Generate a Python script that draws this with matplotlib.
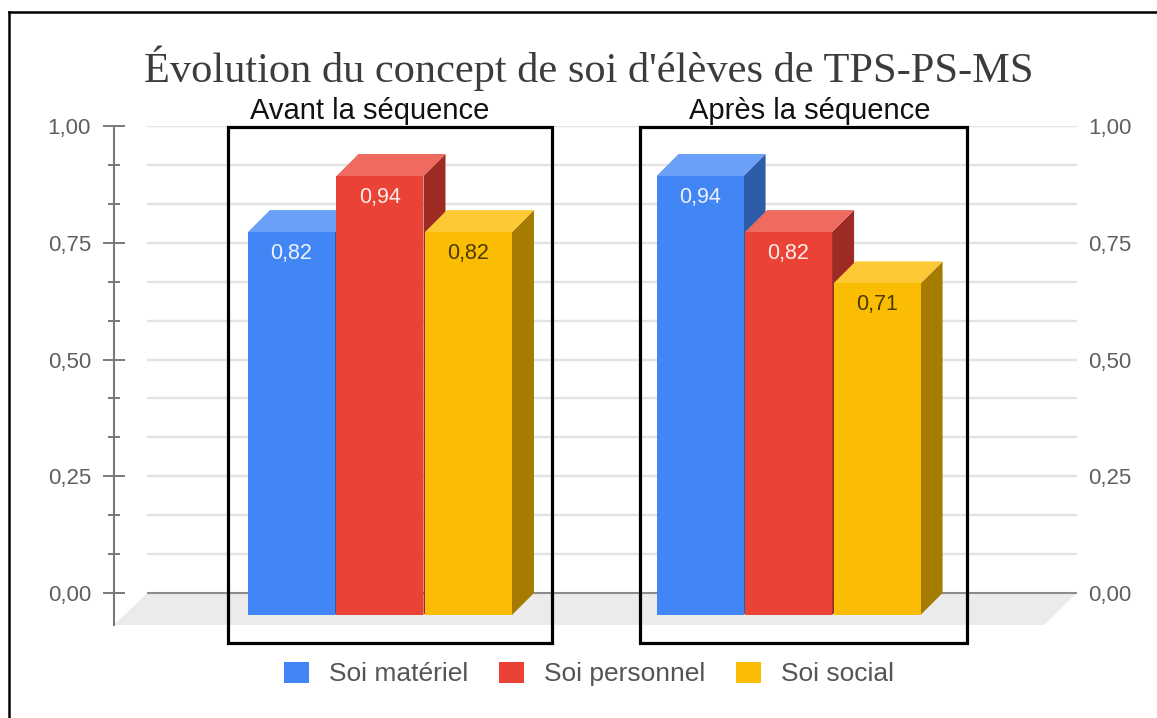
import matplotlib
matplotlib.use("Agg")
import matplotlib.pyplot as plt
import matplotlib.patches as patches
from matplotlib.lines import Line2D
import numpy as np

# data
groups = ["Avant la séquence", "Après la séquence"]
series = ["Soi matériel", "Soi personnel", "Soi social"]
values = {
    "Soi matériel": [0.82, 0.94],
    "Soi personnel": [0.94, 0.82],
    "Soi social": [0.82, 0.71],
}
value_labels = {
    "Soi matériel": ["0,82", "0,94"],
    "Soi personnel": ["0,94", "0,82"],
    "Soi social": ["0,82", "0,71"],
}
tick_values = [0.0, 0.25, 0.5, 0.75, 1.0]
tick_labels = ["0,00", "0,25", "0,50", "0,75", "1,00"]

# colours: front, top, side, label
front = ["#4285f4", "#ea4335", "#fbbc04"]
top = ["#6aa0f7", "#ef6b60", "#fcc934"]
side = ["#2d5ca8", "#9e2b23", "#a67c00"]
label_col = ["#eef3fe", "#fdeeed", "#4a3b00"]

plt.rcParams["font.family"] = ["Liberation Sans", "DejaVu Sans"]

fig = plt.figure(figsize=(11.57, 7.18), dpi=100)
W, H = 1157, 718
ax = fig.add_axes([114 / W, 1 - 625 / H, (1077 - 114) / W, (625 - 126) / H])

floor_dy = 0.0685
ax.set_ylim(-floor_dy, 1.0)
ax.set_xlim(-0.651, 1.706)
xl, xr = ax.get_xlim()

# 3d depth in data units
ddx, ddy = 22 / 408.5, 22 / 467
fdx = 33 / 408.5

# floor + gridlines on the back plane
ax.add_patch(patches.Polygon([(xl + fdx, 0), (xr, 0), (xr - fdx, -floor_dy), (xl, -floor_dy)],
                             closed=True, facecolor="#ebebeb", edgecolor="none", zorder=0))
grid_vals = np.arange(1, 13) / 12
ax.hlines(grid_vals, xl + fdx, xr, color="#e3e3e3", lw=1.7, zorder=0.5)
ax.hlines([0], xl + fdx, xr, color="#8c8c8c", lw=1.5, zorder=0.6)

# bars
bar_w = 0.213
step = 0.2166
for gi, g in enumerate(groups):
    for si, s in enumerate(series):
        v = values[s][gi]
        x0 = gi + (si - 1) * step - bar_w / 2
        z = 2 + gi * 3 + si
        ax.add_patch(patches.Polygon([(x0 + bar_w, -ddy), (x0 + bar_w + ddx, 0),
                                      (x0 + bar_w + ddx, v), (x0 + bar_w, v - ddy)],
                                     closed=True, facecolor=side[si], edgecolor="none", zorder=z))
        ax.add_patch(patches.Polygon([(x0, v - ddy), (x0 + bar_w, v - ddy),
                                      (x0 + bar_w + ddx, v), (x0 + ddx, v)],
                                     closed=True, facecolor=top[si], edgecolor="none", zorder=z))
        ax.add_patch(patches.Rectangle((x0, -ddy), bar_w, v, facecolor=front[si],
                                       edgecolor="none", zorder=z))
        ax.text(x0 + bar_w / 2, v - ddy - 0.045, value_labels[s][gi], ha="center", va="center",
                fontsize=15.5, color=label_col[si], zorder=20)

# group boxes and titles
box_l = [-0.372, -0.364]
box_r = [0.421, 0.437]
box_b, box_t = -0.107, 0.998
label_dx = [-0.024, 0.053]
for gi, g in enumerate(groups):
    ax.add_patch(patches.Rectangle((gi + box_l[gi], box_b), box_r[gi] - box_l[gi], box_t - box_b,
                                   facecolor="none", edgecolor="black", lw=2.3,
                                   clip_on=False, zorder=30))
    ax.text(gi + label_dx[gi], 1.015, g, ha="center", va="baseline", fontsize=21,
            color="#111111")

# axes styling
for sp in ["top", "right", "bottom"]:
    ax.spines[sp].set_visible(False)
ax.spines["left"].set_color("#7a7a7a")
ax.spines["left"].set_linewidth(1.5)
ax.set_xticks([])
ax.set_yticks(tick_values, tick_labels)
ax.set_yticks([v for v in grid_vals if v not in tick_values], minor=True)
ax.tick_params(axis="y", which="major", direction="inout", length=16, width=1.4,
               color="#7a7a7a", labelsize=16, labelcolor="#5f5f5f", pad=8.5)
ax.tick_params(axis="y", which="minor", direction="inout", length=8.6, width=1.4,
               color="#7a7a7a")

ax2 = ax.twinx()
ax2.set_ylim(ax.get_ylim())
for sp in ax2.spines.values():
    sp.set_visible(False)
ax2.set_yticks(tick_values, tick_labels)
ax2.tick_params(axis="y", length=0, labelsize=16, labelcolor="#5f5f5f", pad=8)

# title
fig.text(589 / W, 1 - 82 / H, "Évolution du concept de soi d'élèves de TPS-PS-MS",
         ha="center", va="baseline", fontsize=30.5, color="#3c3c3c",
         family=["Liberation Serif", "DejaVu Serif"])

# legend
handles = [patches.Patch(facecolor=c, edgecolor="none") for c in front]
fig.legend(handles, series, loc="center", bbox_to_anchor=(589 / W, 1 - 674 / H), ncol=3,
           frameon=False, fontsize=19, labelcolor="#555555", handlelength=0.92,
           handleheight=0.84, handletextpad=0.75, columnspacing=1.2)

# outer frame (top and left edge)
fig.add_artist(Line2D([9 / W, 1], [1 - 12 / H, 1 - 12 / H], transform=fig.transFigure,
                      color="black", lw=1.8))
fig.add_artist(Line2D([9 / W, 9 / W], [0, 1 - 12 / H], transform=fig.transFigure,
                      color="black", lw=1.8))

fig.savefig("out.png", dpi=100)
